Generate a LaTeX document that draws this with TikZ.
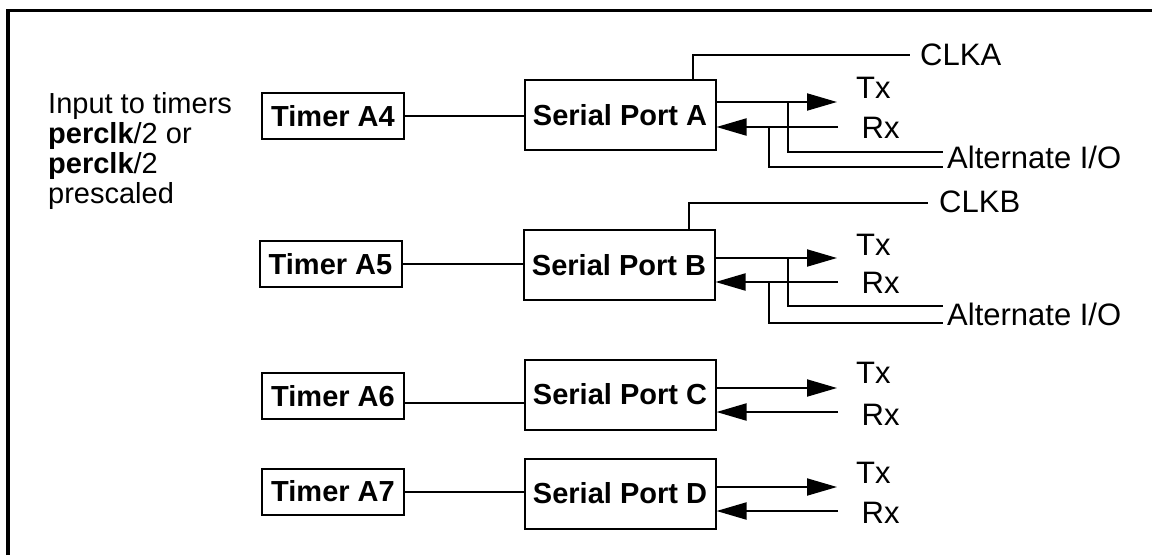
\documentclass[tikz,border=0pt]{standalone}
\usepackage{fontspec}
\setmainfont{Liberation Sans}
\usetikzlibrary{arrows.meta}
\begin{document}
\begin{tikzpicture}[x=1pt,y=-1pt,
  box/.style={draw,line width=2pt,inner sep=0pt,font=\fontsize{29}{30}\selectfont\bfseries},
  timer/.style={box,minimum width=142pt,minimum height=46pt},
  port/.style={box,minimum width=191pt,minimum height=70pt},
  wire/.style={line width=2pt},
  sig/.style={line width=2pt,-{Triangle[length=30pt,width=17pt]}},
  lbl/.style={font=\fontsize{31}{32}\selectfont,inner sep=0pt,anchor=west},
  note/.style={font=\fontsize{29}{30}\selectfont,inner sep=0pt,anchor=base west}]
\useasboundingbox (0,0) rectangle (1152,555);
% frame
\draw[line width=3.3pt] (8,555) -- (8,10.7) -- (1152,10.7);
% left text (last baseline at y=203, lines 30pt apart)
\node[note] (inp) at (48,203)
  {\vbox{\baselineskip=30pt\lineskiplimit=-100pt\relax
    \hbox{Input to timers}\hbox{\textbf{perclk}/2 or}\hbox{\textbf{perclk}/2}\hbox{prescaled}}};
% timers
\node[timer] (tA4) at (333,116) {Timer A4};
\node[timer] (tA5) at (330.5,264) {Timer A5};
\node[timer] (tA6) at (333,396) {Timer A6};
\node[timer] (tA7) at (333,491.5) {Timer A7};
% ports
\node[port] (sA) at (620,115) {Serial Port A};
\node[port] (sB) at (619,265) {Serial Port B};
\node[port] (sC) at (620,394.5) {Serial Port C};
\node[port] (sD) at (620,493.5) {Serial Port D};
% timer -> port
\draw[wire] (tA4.east) -- (tA4.east -| sA.west);
\draw[wire] (tA5.east) -- (tA5.east -| sB.west);
\draw[wire] (tA6.east |- 0,403) -- (sC.west |- 0,403);
\draw[wire] (tA7.east) -- (tA7.east -| sD.west);
% clock lines
\coordinate (clkAend) at (910,55);
\node[lbl] (clkA) at (920,55) {CLKA};
\draw[wire] (sA.north -| 693,0) |- (clkAend);
\coordinate (clkBend) at (928,203);
\node[lbl] (clkB) at (939,202) {CLKB};
\draw[wire] (sB.north -| 689,0) |- (clkBend);
% alternate I/O
\coordinate (altA1) at (943,152);
\coordinate (altA2) at (943,167);
\node[lbl] (altA) at (947,157) {Alternate I/O};
\draw[wire] (788,102) |- (altA1);
\draw[wire] (769,127) |- (altA2);
\coordinate (altB1) at (943,306);
\coordinate (altB2) at (943,323);
\node[lbl] (altB) at (947,314) {Alternate I/O};
\draw[wire] (788,258) |- (altB1);
\draw[wire] (769,282) |- (altB2);
% Tx / Rx signals
\foreach \p/\ty/\ry/\tly/\rly in {A/102/127/88/128, B/258/282/245/283, C/388/412/373/415, D/487/511/473/513}{
  \coordinate (tx\p) at (837,\ty);
  \coordinate (rx\p) at (838,\ry);
  \node[lbl] (txl\p) at (856,\tly) {Tx};
  \node[lbl] (rxl\p) at (861.5,\rly) {Rx};
  \draw[sig] (s\p.east |- tx\p) -- (tx\p);
  \draw[sig] (rx\p) -- (rx\p -| s\p.east);
}
\end{tikzpicture}
\end{document}
